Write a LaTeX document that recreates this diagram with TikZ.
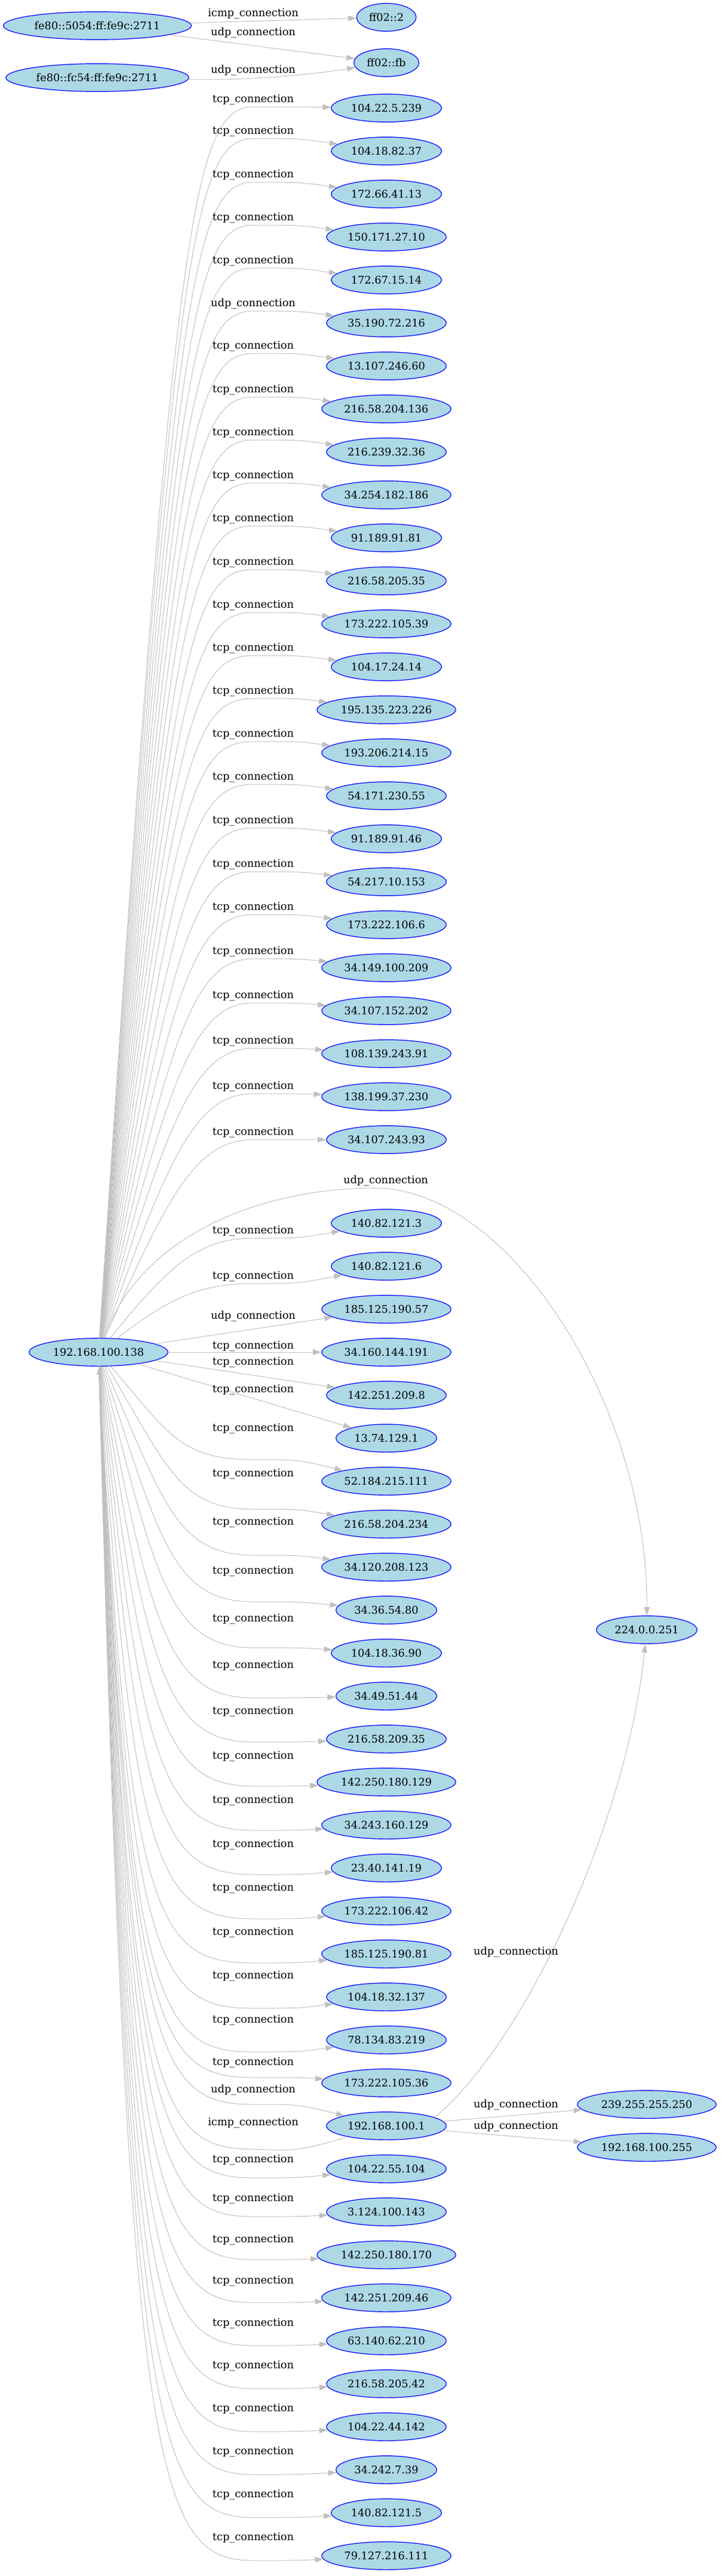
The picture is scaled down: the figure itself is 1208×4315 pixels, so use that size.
\documentclass[tikz,border=0pt]{standalone}
\usepackage{fontspec}
\setmainfont{DejaVu Serif}
\usetikzlibrary{arrows.meta,shapes.geometric}
\definecolor{hostfill}{HTML}{ADD8E6}
\definecolor{hostline}{HTML}{0000FF}
\definecolor{edgegray}{HTML}{C0C0C0}

\begin{document}
\begin{tikzpicture}
[
x=0.75pt, y=-0.75pt,
hostnode/.style={ellipse, draw=hostline, fill=hostfill, line width=0.9pt, minimum height=35pt, inner xsep=4.5pt, font=\fontsize{13.3pt}{16pt}\selectfont},
conn/.style={draw=edgegray, line width=0.75pt, -{Triangle[length=10.5pt,width=7pt]}},
elabel/.style={inner sep=0pt, font=\fontsize{13.3pt}{16pt}\selectfont},
]
\useasboundingbox (0,0) rectangle (1208,4315);
%draw the left column
\node[hostnode] (fe1) at (163,43) {fe80::5054:ff:fe9c:2711};
\node[hostnode] (fe2) at (163,130) {fe80::fc54:ff:fe9c:2711};
\node[hostnode] (host) at (165,2265) {192.168.100.138};
%draw the middle column
\node[hostnode] (mc2) at (647,29) {ff02::2};
\node[hostnode] (mcfb) at (647,105) {ff02::fb};
\node[hostnode] (t1) at (647,181) {104.22.5.239};
\node[hostnode] (t2) at (647,253) {104.18.82.37};
\node[hostnode] (t3) at (647,325) {172.66.41.13};
\node[hostnode] (t4) at (647,397) {150.171.27.10};
\node[hostnode] (t5) at (647,469) {172.67.15.14};
\node[hostnode] (t6) at (647,541) {35.190.72.216};
\node[hostnode] (t7) at (647,613) {13.107.246.60};
\node[hostnode] (t8) at (647,685) {216.58.204.136};
\node[hostnode] (t9) at (647,757) {216.239.32.36};
\node[hostnode] (t10) at (647,829) {34.254.182.186};
\node[hostnode] (t11) at (647,901) {91.189.91.81};
\node[hostnode] (t12) at (647,973) {216.58.205.35};
\node[hostnode] (t13) at (647,1045) {173.222.105.39};
\node[hostnode] (t14) at (647,1117) {104.17.24.14};
\node[hostnode] (t15) at (647,1189) {195.135.223.226};
\node[hostnode] (t16) at (647,1261) {193.206.214.15};
\node[hostnode] (t17) at (647,1333) {54.171.230.55};
\node[hostnode] (t18) at (647,1405) {91.189.91.46};
\node[hostnode] (t19) at (647,1477) {54.217.10.153};
\node[hostnode] (t20) at (647,1549) {173.222.106.6};
\node[hostnode] (t21) at (647,1621) {34.149.100.209};
\node[hostnode] (t22) at (647,1693) {34.107.152.202};
\node[hostnode] (t23) at (647,1765) {108.139.243.91};
\node[hostnode] (t24) at (647,1837) {138.199.37.230};
\node[hostnode] (t25) at (647,1909) {34.107.243.93};
\node[hostnode] (t26) at (647,2049) {140.82.121.3};
\node[hostnode] (t27) at (647,2121) {140.82.121.6};
\node[hostnode] (t28) at (647,2193) {185.125.190.57};
\node[hostnode] (t29) at (647,2265) {34.160.144.191};
\node[hostnode] (t30) at (647,2337) {142.251.209.8};
\node[hostnode] (t31) at (647,2409) {13.74.129.1};
\node[hostnode] (t32) at (647,2481) {52.184.215.111};
\node[hostnode] (t33) at (647,2553) {216.58.204.234};
\node[hostnode] (t34) at (647,2625) {34.120.208.123};
\node[hostnode] (t35) at (647,2697) {34.36.54.80};
\node[hostnode] (t36) at (647,2769) {104.18.36.90};
\node[hostnode] (t37) at (647,2841) {34.49.51.44};
\node[hostnode] (t38) at (647,2913) {216.58.209.35};
\node[hostnode] (t39) at (647,2985) {142.250.180.129};
\node[hostnode] (t40) at (647,3057) {34.243.160.129};
\node[hostnode] (t41) at (647,3129) {23.40.141.19};
\node[hostnode] (t42) at (647,3201) {173.222.106.42};
\node[hostnode] (t43) at (647,3273) {185.125.190.81};
\node[hostnode] (t44) at (647,3345) {104.18.32.137};
\node[hostnode] (t45) at (647,3417) {78.134.83.219};
\node[hostnode] (t46) at (647,3489) {173.222.105.36};
\node[hostnode] (gw) at (647,3561) {192.168.100.1};
\node[hostnode] (t48) at (647,3633) {104.22.55.104};
\node[hostnode] (t49) at (647,3705) {3.124.100.143};
\node[hostnode] (t50) at (647,3777) {142.250.180.170};
\node[hostnode] (t51) at (647,3849) {142.251.209.46};
\node[hostnode] (t52) at (647,3921) {63.140.62.210};
\node[hostnode] (t53) at (647,3993) {216.58.205.42};
\node[hostnode] (t54) at (647,4065) {104.22.44.142};
\node[hostnode] (t55) at (647,4137) {34.242.7.39};
\node[hostnode] (t56) at (647,4209) {140.82.121.5};
\node[hostnode] (t57) at (647,4281) {79.127.216.111};
%draw the right column
\node[hostnode] (mdns) at (1083,2730) {224.0.0.251};
\node[hostnode] (ssdp) at (1083,3525) {239.255.255.250};
\node[hostnode] (bcast) at (1083,3597) {192.168.100.255};

%draw the top edges
\draw[conn] (fe1) -- (mc2) node[elabel] (la) at (424,23) {icmp\_connection};
\draw[conn] (fe1) -- (mcfb) node[elabel] (lb) at (424,55) {udp\_connection};
\draw[conn] (fe2) .. controls (420,135) and (520,125) .. (mcfb) node[elabel] (lc) at (424,118) {udp\_connection};
%draw the upper fan
\draw[conn] (host) .. controls (290,385) and (320,179) .. (424,179) .. controls (500,179) .. (t1) node[elabel] (l1) at (424,167) {tcp\_connection};
\draw[conn] (host) .. controls (290,433) and (320,232) .. (424,232) .. controls (500,232) .. (t2) node[elabel] (l2) at (424,220) {tcp\_connection};
\draw[conn] (host) .. controls (290,499) and (320,305) .. (424,305) .. controls (500,305) .. (t3) node[elabel] (l3) at (424,293) {tcp\_connection};
\draw[conn] (host) .. controls (290,564) and (320,377) .. (424,377) .. controls (500,377) .. (t4) node[elabel] (l4) at (424,365) {tcp\_connection};
\draw[conn] (host) .. controls (290,628) and (320,449) .. (424,449) .. controls (500,449) .. (t5) node[elabel] (l5) at (424,437) {tcp\_connection};
\draw[conn] (host) .. controls (290,693) and (320,521) .. (424,521) .. controls (500,521) .. (t6) node[elabel] (l6) at (424,509) {udp\_connection};
\draw[conn] (host) .. controls (290,757) and (320,592) .. (424,592) .. controls (500,592) .. (t7) node[elabel] (l7) at (424,580) {tcp\_connection};
\draw[conn] (host) .. controls (290,823) and (320,665) .. (424,665) .. controls (500,665) .. (t8) node[elabel] (l8) at (424,653) {tcp\_connection};
\draw[conn] (host) .. controls (290,888) and (320,737) .. (424,737) .. controls (500,737) .. (t9) node[elabel] (l9) at (424,725) {tcp\_connection};
\draw[conn] (host) .. controls (290,952) and (320,809) .. (424,809) .. controls (500,809) .. (t10) node[elabel] (l10) at (424,797) {tcp\_connection};
\draw[conn] (host) .. controls (290,1017) and (320,881) .. (424,881) .. controls (500,881) .. (t11) node[elabel] (l11) at (424,869) {tcp\_connection};
\draw[conn] (host) .. controls (290,1083) and (320,954) .. (424,954) .. controls (500,954) .. (t12) node[elabel] (l12) at (424,942) {tcp\_connection};
\draw[conn] (host) .. controls (290,1148) and (320,1026) .. (424,1026) .. controls (500,1026) .. (t13) node[elabel] (l13) at (424,1014) {tcp\_connection};
\draw[conn] (host) .. controls (290,1212) and (320,1098) .. (424,1098) .. controls (500,1098) .. (t14) node[elabel] (l14) at (424,1086) {tcp\_connection};
\draw[conn] (host) .. controls (290,1277) and (320,1170) .. (424,1170) .. controls (500,1170) .. (t15) node[elabel] (l15) at (424,1158) {tcp\_connection};
\draw[conn] (host) .. controls (290,1342) and (320,1242) .. (424,1242) .. controls (500,1242) .. (t16) node[elabel] (l16) at (424,1230) {tcp\_connection};
\draw[conn] (host) .. controls (289,1424) and (321,1314) .. (424,1314) .. controls (500,1314) .. (t17) node[elabel] (l17) at (424,1302) {tcp\_connection};
\draw[conn] (host) .. controls (288,1505) and (322,1387) .. (424,1387) .. controls (500,1387) .. (t18) node[elabel] (l18) at (424,1375) {tcp\_connection};
\draw[conn] (host) .. controls (287,1583) and (323,1460) .. (424,1460) .. controls (500,1460) .. (t19) node[elabel] (l19) at (424,1448) {tcp\_connection};
\draw[conn] (host) .. controls (286,1657) and (324,1532) .. (424,1532) .. controls (500,1532) .. (t20) node[elabel] (l20) at (424,1520) {tcp\_connection};
\draw[conn] (host) .. controls (285,1731) and (325,1606) .. (424,1606) .. controls (500,1606) .. (t21) node[elabel] (l21) at (424,1594) {tcp\_connection};
\draw[conn] (host) .. controls (284,1801) and (326,1680) .. (424,1680) .. controls (500,1680) .. (t22) node[elabel] (l22) at (424,1668) {tcp\_connection};
\draw[conn] (host) .. controls (283,1870) and (327,1756) .. (424,1756) .. controls (500,1756) .. (t23) node[elabel] (l23) at (424,1744) {tcp\_connection};
\draw[conn] (host) .. controls (282,1937) and (328,1832) .. (424,1832) .. controls (500,1832) .. (t24) node[elabel] (l24) at (424,1820) {tcp\_connection};
\draw[conn] (host) .. controls (281,2001) and (329,1909) .. (424,1909) .. controls (500,1909) .. (t25) node[elabel] (l25) at (424,1897) {tcp\_connection};
\draw[conn] (host) .. controls (240,2060) and (450,1990) .. (628,1990) .. controls (850,1990) and (1085,2350) .. (mdns) node[elabel] (lm1) at (646,1978) {udp\_connection};
\draw[conn] (host) .. controls (280,2124) and (330,2074) .. (424,2074) .. controls (500,2074) .. (t26) node[elabel] (l26) at (424,2062) {tcp\_connection};
\draw[conn] (host) .. controls (280,2178) and (330,2150) .. (424,2150) .. controls (500,2150) .. (t27) node[elabel] (l27) at (424,2138) {tcp\_connection};
%draw the straight ones
\draw[conn] (host) -- (t28) node[elabel] (l28) at (424,2205) {udp\_connection};
\draw[conn] (host) -- (t29) node[elabel] (l29) at (424,2255) {tcp\_connection};
\draw[conn] (host) -- (t30) node[elabel] (l30) at (424,2282) {tcp\_connection};
\draw[conn] (host) -- (t31) node[elabel] (l31) at (424,2328) {tcp\_connection};
%draw the lower fan
\draw[conn] (host) .. controls (280,2398) and (300,2445) .. (424,2445) .. controls (500,2445) .. (t32) node[elabel] (l32) at (424,2393) {tcp\_connection};
\draw[conn] (host) .. controls (280,2456) and (300,2528) .. (424,2528) .. controls (500,2528) .. (t33) node[elabel] (l33) at (424,2469) {tcp\_connection};
\draw[conn] (host) .. controls (274,2518) and (296,2605) .. (424,2605) .. controls (500,2605) .. (t34) node[elabel] (l34) at (424,2550) {tcp\_connection};
\draw[conn] (host) .. controls (267,2583) and (292,2683) .. (424,2683) .. controls (500,2683) .. (t35) node[elabel] (l35) at (424,2632) {tcp\_connection};
\draw[conn] (host) .. controls (260,2652) and (288,2760) .. (424,2760) .. controls (500,2760) .. (t36) node[elabel] (l36) at (424,2712) {tcp\_connection};
\draw[conn] (host) .. controls (253,2730) and (283,2844) .. (424,2844) .. controls (500,2844) .. (t37) node[elabel] (l37) at (424,2790) {tcp\_connection};
\draw[conn] (host) .. controls (247,2804) and (280,2918) .. (424,2918) .. controls (500,2918) .. (t38) node[elabel] (l38) at (424,2867) {tcp\_connection};
\draw[conn] (host) .. controls (240,2880) and (276,2992) .. (424,2992) .. controls (500,2992) .. (t39) node[elabel] (l39) at (424,2942) {tcp\_connection};
\draw[conn] (host) .. controls (234,2960) and (272,3066) .. (424,3066) .. controls (500,3066) .. (t40) node[elabel] (l40) at (424,3016) {tcp\_connection};
\draw[conn] (host) .. controls (228,3042) and (268,3140) .. (424,3140) .. controls (500,3140) .. (t41) node[elabel] (l41) at (424,3090) {tcp\_connection};
\draw[conn] (host) .. controls (221,3128) and (264,3214) .. (424,3214) .. controls (500,3214) .. (t42) node[elabel] (l42) at (424,3163) {tcp\_connection};
\draw[conn] (host) .. controls (215,3218) and (260,3288) .. (424,3288) .. controls (500,3288) .. (t43) node[elabel] (l43) at (424,3237) {tcp\_connection};
\draw[conn] (host) .. controls (215,3289) and (260,3364) .. (424,3364) .. controls (500,3364) .. (t44) node[elabel] (l44) at (424,3310) {tcp\_connection};
\draw[conn] (host) .. controls (215,3357) and (260,3437) .. (424,3437) .. controls (500,3437) .. (t45) node[elabel] (l45) at (424,3384) {tcp\_connection};
\draw[conn] (host) .. controls (215,3397) and (260,3480) .. (424,3480) .. controls (500,3480) .. (t46) node[elabel] (l46) at (424,3455) {tcp\_connection};
\draw[conn] (host) .. controls (215,3439) and (260,3525) .. (424,3525) .. controls (500,3525) .. (gw) node[elabel] (l47) at (424,3501) {udp\_connection};
\draw[conn] (gw) .. controls (500,3603) .. (424,3600) .. controls (260,3600) and (215,3508) .. (host) node[elabel] (lic) at (424,3556) {icmp\_connection};
\draw[conn] (host) .. controls (215,3553) and (260,3648) .. (424,3648) .. controls (500,3648) .. (t48) node[elabel] (l48) at (424,3618) {tcp\_connection};
\draw[conn] (host) .. controls (215,3613) and (260,3713) .. (424,3713) .. controls (500,3713) .. (t49) node[elabel] (l49) at (424,3683) {tcp\_connection};
\draw[conn] (host) .. controls (215,3680) and (260,3785) .. (424,3785) .. controls (500,3785) .. (t50) node[elabel] (l50) at (424,3752) {tcp\_connection};
\draw[conn] (host) .. controls (215,3747) and (260,3857) .. (424,3857) .. controls (500,3857) .. (t51) node[elabel] (l51) at (424,3821) {tcp\_connection};
\draw[conn] (host) .. controls (215,3814) and (260,3929) .. (424,3929) .. controls (500,3929) .. (t52) node[elabel] (l52) at (424,3892) {tcp\_connection};
\draw[conn] (host) .. controls (215,3881) and (260,4001) .. (424,4001) .. controls (500,4001) .. (t53) node[elabel] (l53) at (424,3963) {tcp\_connection};
\draw[conn] (host) .. controls (215,3948) and (260,4073) .. (424,4073) .. controls (500,4073) .. (t54) node[elabel] (l54) at (424,4035) {tcp\_connection};
\draw[conn] (host) .. controls (215,4015) and (260,4145) .. (424,4145) .. controls (500,4145) .. (t55) node[elabel] (l55) at (424,4107) {tcp\_connection};
\draw[conn] (host) .. controls (215,4082) and (260,4217) .. (424,4217) .. controls (500,4217) .. (t56) node[elabel] (l56) at (424,4179) {tcp\_connection};
\draw[conn] (host) .. controls (215,4149) and (260,4289) .. (424,4289) .. controls (500,4289) .. (t57) node[elabel] (l57) at (424,4251) {tcp\_connection};
%draw the gateway edges
\draw[conn] (gw.10) .. controls (880,3420) and (1050,3050) .. (mdns) node[elabel] (lm2) at (864,3270) {udp\_connection};
\draw[conn] (gw) -- (ssdp) node[elabel] (ls) at (864,3526) {udp\_connection};
\draw[conn] (gw) -- (bcast) node[elabel] (lbc) at (864,3562) {udp\_connection};
\end{tikzpicture}
\end{document}
